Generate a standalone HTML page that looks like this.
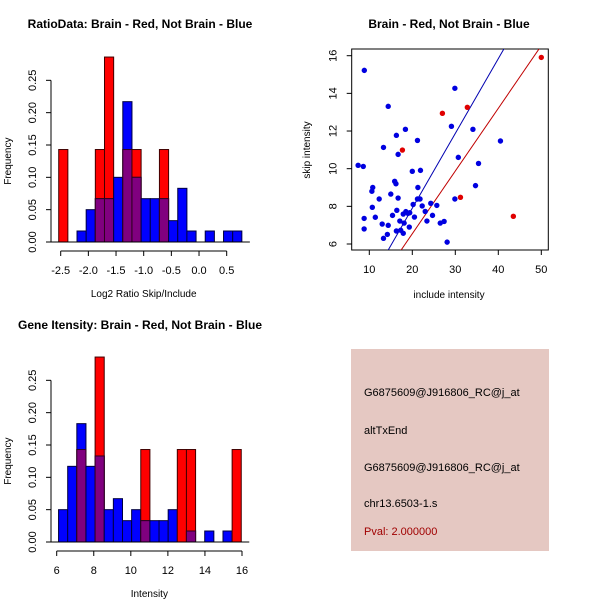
<!DOCTYPE html>
<html><head><meta charset="utf-8"><style>
body{margin:0;background:#fff}
svg{display:block;font-family:"Liberation Sans",sans-serif}
</style></head><body>
<svg id="c" width="600" height="600" viewBox="0 0 600 600">
<rect x="351" y="349" width="198" height="202" fill="#e5c8c2"/>
<text x="364" y="396" font-size="11" fill="#000">G6875609@J916806_RC@j_at</text>
<text x="364" y="434" font-size="11" fill="#000">altTxEnd</text>
<text x="364" y="471" font-size="11" fill="#000">G6875609@J916806_RC@j_at</text>
<text x="364" y="507" font-size="11" fill="#000">chr13.6503-1.s</text>
<text x="364" y="535" font-size="11" fill="#a00000">Pval: 2.000000</text>
</svg>
<script>
// Histogram 1 data
const h1Start=-2.536, h1Width=0.1655;
const h1Blue=[0,0,0.017,0.05,0.067,0.067,0.1,0.217,0.1,0.067,0.067,0.067,0.033,0.083,0.017,0,0.017,0,0.017,0.017];
const h1Red=[0.143,0,0,0,0.143,0.286,0,0.143,0.143,0,0,0.143,0,0,0,0,0,0,0,0];
const h1Ticks=[-2.5,-2.0,-1.5,-1.0,-0.5,0.0,0.5];
const h1TickLabels=["-2.5","-2.0","-1.5","-1.0","-0.5","0.0","0.5"];
// Histogram 2 data
const h2Start=6.1, h2Width=0.493;
const h2Blue=[0.05,0.117,0.183,0.117,0.133,0.05,0.067,0.033,0.05,0.033,0.033,0.033,0.05,0,0.017,0,0.017,0,0.017,0];
const h2Red=[0,0,0.143,0,0.286,0,0,0,0,0.143,0,0,0,0.143,0.143,0,0,0,0,0.143];
const h2Ticks=[6,8,10,12,14,16];
const h2TickLabels=["6","8","10","12","14","16"];
const freqTicks=[0,0.05,0.10,0.15,0.20,0.25];
const freqTickLabels=["0.00","0.05","0.10","0.15","0.20","0.25"];
// Scatter data
const blueX=[8.84,29.9,14.4,29.1,18.4,34.1,16.3,21.2,40.5,13.3,16.7,30.7,7.4,8.6,35.4,20.0,21.9,15.9,16.2,10.8,10.6,21.3,34.7,15.0,12.3,16.7,21.2,21.8,29.9,10.7,16.4,20.2,22.3,24.3,25.7,23.0,11.4,8.8,15.4,17.9,18.5,19.0,19.4,20.5,24.7,17.1,18.1,23.4,26.5,27.4,13.0,14.4,19.3,8.8,16.3,17.3,17.9,14.2,13.3,28.1];
const blueY=[15.22,14.27,13.31,12.25,12.09,12.09,11.77,11.5,11.47,11.13,10.76,10.6,10.18,10.12,10.28,9.86,9.91,9.33,9.2,9.0,8.8,9.0,9.1,8.65,8.39,8.44,8.39,8.39,8.39,7.95,7.79,8.1,8.02,8.16,8.05,7.73,7.42,7.36,7.52,7.59,7.72,7.63,7.66,7.43,7.52,7.22,7.11,7.22,7.11,7.2,7.06,6.99,6.9,6.8,6.69,6.73,6.57,6.51,6.3,6.1];
const redX=[17.7,27.0,32.8,31.2,43.5,50.0];
const redY=[10.99,12.94,13.26,8.48,7.47,15.91];
const blueLine=[14.4,5.68,0.397]; // x0,y0,slope
const redLine=[17.4,5.68,0.333];
const sxTicks=[10,20,30,40,50], syTicks=[6,8,10,12,14,16];

const NS="http://www.w3.org/2000/svg";
const svg=document.getElementById('c');
function mk(tag,attrs,parent){const e=document.createElementNS(NS,tag);for(const k in attrs)e.setAttribute(k,attrs[k]);(parent||svg).appendChild(e);return e;}
function txt(x,y,s,attrs,parent){const t=mk('text',Object.assign({x:x,y:y},attrs||{}),parent);t.textContent=s;return t;}

function hist(cfg){
  const g=mk('g',{});
  
  
  const X=v=>cfg.x0px+(v-cfg.x0v)*cfg.xs, Y=v=>cfg.y0px-v*cfg.ys;
  for(let i=0;i<cfg.blue.length;i++){
    const a=cfg.start+i*cfg.width, b=a+cfg.width;
    const xa=X(a), xb=X(b), r=cfg.red[i], bl=cfg.blue[i], m=Math.min(r,bl);
    if(r>0){const e=mk('rect',{x:xa,y:Y(r),width:xb-xa,height:Y(0)-Y(r),fill:'#ff0000',stroke:'#400000','stroke-width':1},g);
      }
    if(bl>0){const e=mk('rect',{x:xa,y:Y(bl),width:xb-xa,height:Y(0)-Y(bl),fill:'#0000ff',stroke:'#000040','stroke-width':1},g);
      }
    if(m>0){const e=mk('rect',{x:xa,y:Y(m),width:xb-xa,height:Y(0)-Y(m),fill:'#80007f',stroke:'#300020','stroke-width':1},g);
      }
  }
  const ya=mk('g',{},g);
  mk('line',{x1:cfg.yaxX,x2:cfg.yaxX,y1:Y(0),y2:Y(0.25),stroke:'#000'},ya);
  const lx=cfg.yaxX-19;
  freqTicks.forEach((v,i)=>{mk('line',{x1:cfg.yaxX-5,x2:cfg.yaxX,y1:Y(v),y2:Y(v),stroke:'#000'},ya);
    const t=txt(lx,Y(v),freqTickLabels[i],{'font-size':11,'text-anchor':'middle',transform:`rotate(-90 ${lx} ${Y(v)})`},ya);t.setAttribute('dy','4');});
  const xa=mk('g',{},g);
  const ty=cfg.xaxY;
  mk('line',{x1:X(cfg.ticks[0]),x2:X(cfg.ticks[cfg.ticks.length-1]),y1:ty,y2:ty,stroke:'#000'},xa);
  cfg.ticks.forEach((v,i)=>{mk('line',{x1:X(v),x2:X(v),y1:ty,y2:ty+5,stroke:'#000'},xa);
    txt(X(v),ty+23,cfg.labels[i],{'font-size':11,'text-anchor':'middle'},xa);});
  const xt=txt(cfg.x0px+(cfg.xEnd-cfg.x0px)/2,ty+46,cfg.xlab,{'font-size':10,'text-anchor':'middle'},g);
  
  const yt=txt(11,(Y(0)+Y(0.25))/2,'Frequency',{'font-size':10,'text-anchor':'middle',transform:`rotate(-90 11 ${(Y(0)+Y(0.25))/2})`},g);
  
  mk('line',{x1:X(cfg.start)-8,x2:X(cfg.start+cfg.width*cfg.blue.length)+8,y1:Y(0),y2:Y(0),stroke:'#000'},g);
  const tt=txt(140,cfg.titleY,cfg.title,{'font-size':12,'font-weight':'bold','text-anchor':'middle'},g);
  
}
hist({name:'ratio-histogram',start:h1Start,width:h1Width,blue:h1Blue,red:h1Red,ticks:h1Ticks,labels:h1TickLabels,
  x0v:-2.5,x0px:60.7,xs:55.33,y0px:242,ys:646.7,yaxX:51,xaxY:251,xEnd:226.7,xlab:'Log2 Ratio Skip/Include',title:'RatioData: Brain - Red, Not Brain - Blue',titleY:28});
hist({name:'intensity-histogram',start:h2Start,width:h2Width,blue:h2Blue,red:h2Red,ticks:h2Ticks,labels:h2TickLabels,
  x0v:6,x0px:56.7,xs:18.53,y0px:542,ys:646.7,yaxX:51,xaxY:551,xEnd:242,xlab:'Intensity',title:'Gene Itensity: Brain - Red, Not Brain - Blue',titleY:329});

(function(){
  const g=mk('g',{});
  
  
  const L=351.7,R=548.3,T=49,B=250;
  const X=v=>369.3+(v-10)*4.3, Y=v=>244-(v-6)*18.83;
  mk('defs',{},g).innerHTML='<clipPath id="pc"><rect x="'+L+'" y="'+T+'" width="'+(R-L)+'" height="'+(B-T)+'"/></clipPath>';
  const box=mk('rect',{x:L,y:T,width:R-L,height:B-T,fill:'none',stroke:'#000'},g);
  
  [[blueLine,'#0000b0','blue-fit-line'],[redLine,'#c00000','red-fit-line']].forEach(([p,c,n])=>{
    const x1=0,x2=60;
    const l=mk('line',{x1:X(x1),y1:Y(p[1]+(x1-p[0])*p[2]),x2:X(x2),y2:Y(p[1]+(x2-p[0])*p[2]),stroke:c,'stroke-width':1,'clip-path':'url(#pc)'},g);
    
  });
  blueX.forEach((v,i)=>{const e=mk('circle',{cx:X(v),cy:Y(blueY[i]),r:2.7,fill:'#0000e0'},g);
    });
  redX.forEach((v,i)=>{const e=mk('circle',{cx:X(v),cy:Y(redY[i]),r:2.7,fill:'#e00000'},g);
    });
  sxTicks.forEach(v=>{mk('line',{x1:X(v),x2:X(v),y1:B,y2:B+5,stroke:'#000'},g);
    txt(X(v),B+23,String(v),{'font-size':11,'text-anchor':'middle'},g);});
  const lx=L-19;
  syTicks.forEach(v=>{mk('line',{x1:L-5,x2:L,y1:Y(v),y2:Y(v),stroke:'#000'},g);
    const t=txt(lx,Y(v),String(v),{'font-size':11,'text-anchor':'middle',transform:`rotate(-90 ${lx} ${Y(v)})`},g);t.setAttribute('dy','4');});
  const xt=txt(449,298,'include intensity',{'font-size':10,'text-anchor':'middle'},g);
  
  const yt=txt(310,150,'skip intensity',{'font-size':10,'text-anchor':'middle',transform:'rotate(-90 310 150)'},g);
  
  const tt=txt(449,28,'Brain - Red, Not Brain - Blue',{'font-size':12,'font-weight':'bold','text-anchor':'middle'},g);
  
})();
</script>
</body></html>
